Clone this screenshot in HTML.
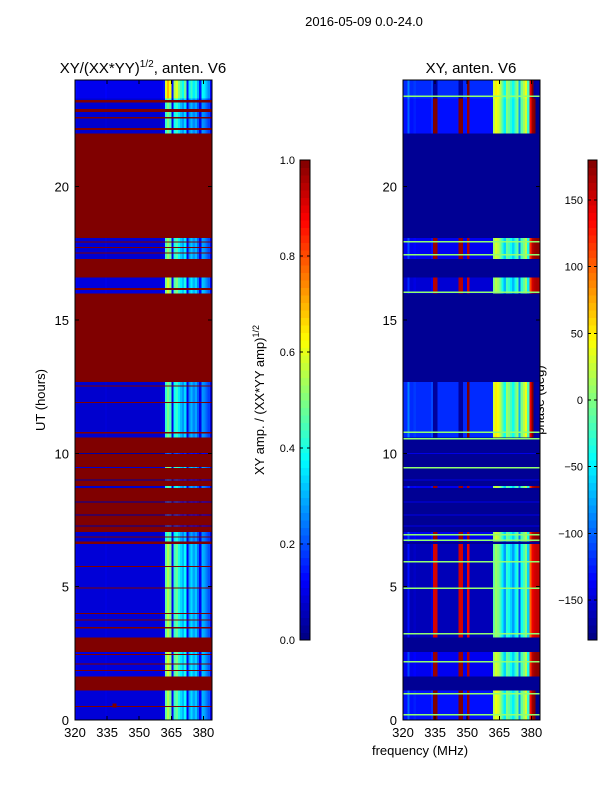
<!DOCTYPE html>
<html><head><meta charset="utf-8"><style>
body{margin:0;background:#fff;}
svg text{font-family:"Liberation Sans",sans-serif;fill:#000;}
</style></head><body>
<svg id="fig" width="600" height="800" viewBox="0 0 600 800" xmlns="http://www.w3.org/2000/svg" shape-rendering="crispEdges">
<rect width="600" height="800" fill="#fff"/>
<text x="364" y="26" font-size="13" text-anchor="middle">2016-05-09 0.0-24.0</text>
<text x="143" y="73" font-size="15" text-anchor="middle">XY/(XX*YY)<tspan font-size="10" dy="-6">1/2</tspan><tspan dy="6">, anten. V6</tspan></text>
<text x="471" y="73" font-size="15" text-anchor="middle">XY, anten. V6</text>
<text x="45" y="400" font-size="13" text-anchor="middle" transform="rotate(-90 45 400)">UT (hours)</text>
<text x="420" y="755" font-size="13" text-anchor="middle">frequency (MHz)</text>
<text x="264" y="400" font-size="13" text-anchor="middle" transform="rotate(-90 264 400)">XY amp. / (XX*YY amp)<tspan font-size="9" dy="-5">1/2</tspan></text>
<text x="544" y="400" font-size="13" text-anchor="middle" transform="rotate(-90 544 400)">phase (deg)</text>
<g id="left"></g>
<g id="right"></g>
<g id="axes"></g>
</svg>
<script>
// ---- data ----
const freqStart = 320, freqEnd = 384, nChan = 64;
const xTicks = [320, 335, 350, 365, 380];
const yTicks = [0, 5, 10, 15, 20];
const ampTicks = [0.0, 0.2, 0.4, 0.6, 0.8, 1.0];
const phaseTicks = [-150, -100, -50, 0, 50, 100, 150];
// amplitude profile per 1 MHz channel (320..383)
const ampProfile = [0.11,0.1,0.09,0.09,0.09,0.09,0.09,0.09,0.09,0.09,0.09,0.09,0.09,0.09,0.1,0.09,0.09,0.09,0.09,0.09,
 0.09,0.09,0.09,0.09,0.09,0.09,0.09,0.09,0.09,0.09,0.09,0.09,0.09,0.09,0.09,0.09,0.09,0.09,0.09,0.09,
 0.1,0.12,0.5,0.58,0.52,0.12,0.45,0.5,0.42,0.36,0.32,0.4,0.12,0.3,0.36,0.3,0.34,0.25,0.12,0.32,0.3,0.26,0.22,0.11];
// phase profile (deg)
const phaseProfile = [-140,-140,-110,-140,-140,-135,-140,-140,-140,-140,-140,-140,-140,-130,170,170,-140,-140,-140,-140,
 -140,-140,-140,-140,-140,-140,170,170,-140,-140,160,-140,-140,-140,-140,-140,-140,-140,-140,-140,
 -140,-140,10,30,20,0,-30,-60,-10,-20,-40,-60,-30,-10,-90,-20,0,20,-40,120,160,170,175,175];
// data bands [startHour, endHour]
const bandStart = [23.3,22.0,17.28,16.0,10.6,9.46,8.7,6.7,3.1,1.63,0, 9.98,8.98,8.16,7.66,7.26];
const bandEnd   = [24.0,23.3,18.07,16.6,12.67,9.49,8.78,7.05,6.6,2.55,1.1, 10.02,9.02,8.2,7.7,7.3];
const bandGain  = [1.2,0.85,0.9,1.0,0.85,0.9,0.8,0.8,0.95,1.0,0.95, 0.4,0.4,0.4,0.4,0.4];
const bandShift = [20,10,0,-10,20,0,0,0,-20,0,10, 0,0,0,0,0];
// thin flagged lines [start,end]
const flagStart = [23.15,22.8,22.55,22.12,17.9,17.7,17.5,16.12,12.5,11.9,10.75,6.85,5.73,4.93,3.98,3.73,3.43,2.43,2.08,1.83,0.48];
const flagEnd   = [23.25,22.92,22.62,22.2,17.94,17.74,17.54,16.2,12.55,11.93,10.8,6.88,5.77,4.97,4.02,3.77,3.48,2.47,2.12,1.87,0.52];
// phase panel green lines (hours)
const phaseLines = [23.4,17.95,17.45,16.05,10.8,10.55,9.47,6.95,6.75,5.95,4.95,3.25,2.2,1.0,0.2];
// spot
const spotFreq = [338], spotHour = [0.55], spotVal = [1.0];

// ---- helpers ----
const NS = "http://www.w3.org/2000/svg";
function jet(v){v=Math.max(0,Math.min(1,v));const c=t=>Math.round(255*Math.max(0,Math.min(1,1.5-Math.abs(4*v-t))));return `rgb(${c(3)},${c(2)},${c(1)})`;}
const yTop=80,yBot=720;
const yS=h=>yBot-(yBot-yTop)*h/24;
const LX0=75, RX0=403, W=137;
const xS=(x0,f)=>x0+W*(f-freqStart)/(freqEnd-freqStart);
function mk(parent,tag,attrs){const e=document.createElementNS(NS,tag);for(const k in attrs)e.setAttribute(k,attrs[k]);parent.appendChild(e);return e;}
const wrap=d=>{while(d>180)d-=360;while(d<-180)d+=360;return d;};
const L=document.getElementById('left'), R=document.getElementById('right'), A=document.getElementById('axes');

mk(L,'rect',{x:LX0,y:yTop,width:W,height:yBot-yTop,fill:jet(1)});
mk(R,'rect',{x:RX0,y:yTop,width:W,height:yBot-yTop,fill:jet(0.02)});
for(let b=0;b<bandStart.length;b++){
  const y1=yS(bandEnd[b]), y2=yS(bandStart[b]);
  for(let c=0;c<nChan;c++){
    const f=freqStart+c;
    const a=mk(L,'rect',{x:xS(LX0,f),y:y1,width:W/nChan+0.3,height:Math.max(1,y2-y1),fill:jet(ampProfile[c]*bandGain[b])});
    
    
    const p=wrap(phaseProfile[c]+bandShift[b]);
    const r=mk(R,'rect',{x:xS(RX0,f),y:y1,width:W/nChan+0.3,height:Math.max(1,y2-y1),fill:jet(bandGain[b]<0.5?0.1:(p+180)/360)});
    
    
  }
}
for(let i=0;i<flagStart.length;i++){
  const y1=yS(flagEnd[i]),y2=yS(flagStart[i]);
  const a=mk(L,'rect',{x:LX0,y:y1,width:W,height:Math.max(1,y2-y1),fill:jet(1)});
  
  
}
for(let i=0;i<phaseLines.length;i++){
  const l=mk(R,'rect',{x:RX0,y:yS(phaseLines[i])-0.5,width:W,height:1.5,fill:'#90ff70'});
  
  
}
for(let i=0;i<spotFreq.length;i++){
  const s=mk(L,'rect',{x:xS(LX0,spotFreq[i])-1,y:yS(spotHour[i])-2,width:4,height:4,fill:jet(spotVal[i])});
  
  
}

// axes frames & ticks
[LX0,RX0].forEach((x0,pi)=>{
  const fr=mk(A,'rect',{x:x0,y:yTop,width:W,height:yBot-yTop,fill:'none',stroke:'#000','stroke-width':1});
  
  
  yTicks.forEach(t=>{
    const y=yS(t);
    mk(A,'line',{x1:x0,x2:x0+4,y1:y,y2:y,stroke:'#000'});
    mk(A,'line',{x1:x0+W-4,x2:x0+W,y1:y,y2:y,stroke:'#000'});
    const tx=mk(A,'text',{x:x0-6,y:y+5,'font-size':13,'text-anchor':'end'});tx.textContent=t;
    
    
  });
  xTicks.forEach(t=>{
    const x=xS(x0,t);
    mk(A,'line',{x1:x,x2:x,y1:yBot,y2:yBot-4,stroke:'#000'});
    mk(A,'line',{x1:x,x2:x,y1:yTop,y2:yTop+4,stroke:'#000'});
    const tx=mk(A,'text',{x:x,y:yBot+17,'font-size':13,'text-anchor':'middle'});tx.textContent=t;
    
    
  });
});
// colorbars
function cbar(x,w,ticks,lo,hi,fmt,name){
  const g=mk(A,'g',{});
  
  
  const n=64,t0=160,t1=640;
  for(let i=0;i<n;i++){mk(g,'rect',{x:x,y:t1-(i+1)*(t1-t0)/n,width:w,height:(t1-t0)/n+0.5,fill:jet((i+0.5)/n)});}
  mk(g,'rect',{x:x,y:t0,width:w,height:t1-t0,fill:'none',stroke:'#000'});
  ticks.forEach(v=>{
    const y=t1-(t1-t0)*(v-lo)/(hi-lo);
    mk(g,'line',{x1:x,x2:x+3,y1:y,y2:y,stroke:'#000'});
    mk(g,'line',{x1:x+w-3,x2:x+w,y1:y,y2:y,stroke:'#000'});
    const tx=mk(g,'text',{x:x-5,y:y+4,'font-size':11,'text-anchor':'end'});tx.textContent=fmt(v);
    
    
  });
}
cbar(300,10,ampTicks,0,1,v=>v.toFixed(1),'amp-colorbar');
cbar(588,9,phaseTicks,-180,180,v=>v<0?'\u2212'+(-v):String(v),'phase-colorbar');
</script>
</body></html>
